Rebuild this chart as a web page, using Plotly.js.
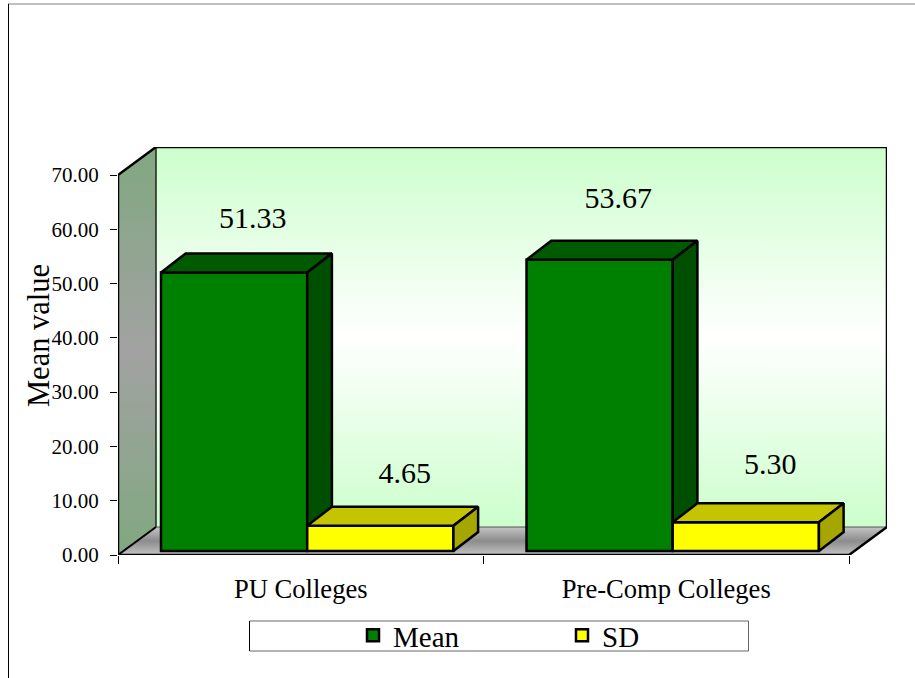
<!DOCTYPE html>
<html><head><meta charset="utf-8">
<script src="https://cdn.plot.ly/plotly-3.0.1.min.js"></script>
<style>html,body{margin:0;padding:0;background:#fff}#c{width:915px;height:678px}</style>
</head><body><div id="c"></div>
<script>
const categories = ["PU Colleges", "Pre-Comp Colleges"];
const meanValues = [51.33, 53.67];
const sdValues = [4.65, 5.30];
const yTicks = [0, 10, 20, 30, 40, 50, 60, 70];
const seriesNames = ["Mean", "SD"];
const meanLabelLift = [9.6, 10.85];
const sdLabelLift = [9.2, 10.35];

const W = 915, H = 678;
const L = 118, B = 555, T = 147, R = 887;
const DX = 38 / 365.5, DY = 28 / 5.4286;          // oblique depth of the box, in axis units
const YMAX = 70, XMAX = 2;
const FRONTX = 0.17, FRONTY = 0.14, BACK = 0.82;   // bar depth inside the box
const BW = 0.4;
const px = v => (v - L) / (R - L), py = v => (B - v) / (B - T);

function poly(xs, ys, o, axes) {
  return Object.assign({
    type: 'scatter', mode: 'lines', x: xs, y: ys, fill: 'toself', showlegend: false, hoverinfo: 'skip',
    cliponaxis: false, line: { color: '#000', width: 2.5 }
  }, axes ? { xaxis: axes[0], yaxis: axes[1] } : {}, o);
}

function barTrace(name, vals, pos, color, axes) {
  return {
    type: 'bar', name, x: pos.map(p => p + FRONTX * DX), y: vals, base: vals.map(() => FRONTY * DY), width: BW,
    marker: { color, line: { color: '#000', width: 2.5 } }, xaxis: axes[0], yaxis: axes[1], hoverinfo: 'skip'
  };
}

function faces(vals, pos, topColor, sideColor, axes) {
  const out = [];
  vals.forEach((v, i) => {
    const x0 = pos[i] - BW / 2 + FRONTX * DX, x1 = pos[i] + BW / 2 + FRONTX * DX;
    const y1 = v + FRONTY * DY, y0 = FRONTY * DY;
    const ox = (BACK - FRONTX) * DX, oy = (BACK - FRONTY) * DY;
    out.push(poly([x0, x1, x1 + ox, x0 + ox, x0], [y1, y1, y1 + oy, y1 + oy, y1], { fillcolor: topColor }, axes));
    out.push(poly([x1, x1 + ox, x1 + ox, x1, x1], [y1, y1 + oy, y0 + oy, y0, y1], { fillcolor: sideColor }, axes));
  });
  return out;
}

const meanPos = categories.map((c, i) => i + 0.5 - BW / 2);
const sdPos = categories.map((c, i) => i + 0.5 + BW / 2);
const A2 = ['x2', 'y2'], A3 = ['x3', 'y3'];

const walls = [
  poly([DX, XMAX + DX, XMAX + DX, DX, DX], [DY, DY, YMAX + DY, YMAX + DY, DY], {
    line: { color: '#000', width: 0 }, fillcolor: '#CCFFCC',
    fillgradient: { type: 'vertical', start: DY, stop: YMAX + DY,
      colorscale: [[0, '#CCFFCC'], [0.5, '#FFFFFF'], [1, '#CCFFCC']] }
  }),
  poly([0, DX, DX, 0, 0], [0, DY, YMAX + DY, YMAX, 0], {
    line: { color: '#000', width: 0 }, fillcolor: '#A0A0A0',
    fillgradient: { type: 'vertical', start: 0, stop: YMAX + DY,
      colorscale: [[0, '#80A880'], [0.5, '#A2A2A2'], [1, '#80A880']] }
  }),
  poly([0, XMAX, XMAX + DX, DX, 0], [0, 0, DY, DY, 0], {
    line: { color: '#000', width: 0 }, fillcolor: '#C0C0C0',
    fillgradient: { type: 'vertical', start: 0, stop: DY,
      colorscale: [[0, '#C4C4C4'], [0.5, '#8C8C8C'], [1, '#C4C4C4']] }
  }),
  { type: 'scatter', mode: 'lines', showlegend: false, hoverinfo: 'skip', cliponaxis: false,
    x: [DX, DX, XMAX + DX], y: [DY, YMAX + DY, YMAX + DY], line: { color: '#222', width: 1.5 } },
  { type: 'scatter', mode: 'lines', showlegend: false, hoverinfo: 'skip', cliponaxis: false,
    x: [DX, XMAX + DX], y: [DY, DY], line: { color: '#555', width: 1 } },
  { type: 'scatter', mode: 'lines', showlegend: false, hoverinfo: 'skip', cliponaxis: false,
    x: [XMAX + DX, DX, 0, 0, XMAX, XMAX + DX, XMAX + DX], y: [YMAX + DY, YMAX + DY, YMAX, 0, 0, DY, YMAX + DY], line: { color: '#000', width: 2.5 } },
  { type: 'scatter', mode: 'lines', showlegend: false, hoverinfo: 'skip', cliponaxis: false,
    x: [0, DX], y: [0, DY], line: { color: '#000', width: 2 } }
];

function labels(vals, pos, lift, dx, axes) {
  return {
    type: 'scatter', mode: 'text', showlegend: false, hoverinfo: 'skip', cliponaxis: false,
    x: pos.map(p => p + dx), y: vals.map((v, i) => v + FRONTY * DY + lift[i]),
    text: vals.map(v => v.toFixed(2)), textposition: 'middle center',
    textfont: { family: 'Liberation Serif', size: 30, color: '#000' }, xaxis: axes[0], yaxis: axes[1]
  };
}

const traces = [
  ...walls,
  ...faces(meanValues, meanPos, '#005A00', '#004F00', A2),
  barTrace(seriesNames[0], meanValues, meanPos, '#008000', A2),
  barTrace(seriesNames[1], sdValues, sdPos, '#FFFF00', A3),
  ...faces(sdValues, sdPos, '#C4C400', '#A6A600', A3),
  labels(meanValues, meanPos, meanLabelLift, 0.0684, A3),
  labels(sdValues, sdPos, sdLabelLift, 0.0844, A3)
];

const ov = (side) => ({ overlaying: side, visible: false, fixedrange: true });
const xr = [0, XMAX + DX], yr = [0, YMAX + DY];
const layout = {
  width: W, height: H, margin: { l: L, r: W - R, t: T, b: H - B, pad: 0 },
  paper_bgcolor: '#fff', plot_bgcolor: 'rgba(0,0,0,0)', barmode: 'overlay', showlegend: true,
  font: { family: 'Liberation Serif', color: '#000' },
  xaxis: {
    range: xr, showgrid: false, zeroline: false, showline: false, fixedrange: true,
    tickmode: 'array', tickvals: categories.map((c, i) => i + 0.5), ticktext: categories,
    ticks: '', tickfont: { size: 26.6 }, ticklabelstandoff: 15,
    minor: { tickmode: 'array', tickvals: [0, 1, 2], ticks: 'outside', ticklen: 8, tickwidth: 1, tickcolor: '#000', showgrid: false }
  },
  yaxis: {
    range: yr, showgrid: false, zeroline: false, showline: false, fixedrange: true,
    tickmode: 'array', tickvals: yTicks, ticktext: yTicks.map(v => v.toFixed(2)),
    ticks: 'outside', ticklen: 7, tickwidth: 1, tickcolor: '#000', tickfont: { size: 21 },
    ticklabelstandoff: 7
  },
  xaxis2: Object.assign({ range: xr, anchor: 'y2' }, ov('x')),
  yaxis2: Object.assign({ range: yr, anchor: 'x2' }, ov('y')),
  xaxis3: Object.assign({ range: xr, anchor: 'y3' }, ov('x')),
  yaxis3: Object.assign({ range: yr, anchor: 'x3' }, ov('y')),
  legend: {
    orientation: 'h', x: px(353), y: py(635.5), xanchor: 'left', yanchor: 'middle',
    bgcolor: 'rgba(0,0,0,0)', borderwidth: 0, entrywidth: 164, entrywidthmode: 'pixels',
    font: { size: 29, family: 'Liberation Serif', color: '#000' }, traceorder: 'normal', itemclick: false, itemdoubleclick: false
  },
  annotations: [
    { xref: 'paper', yref: 'paper', x: px(39), y: py(336), text: 'Mean value', textangle: -90, showarrow: false,
      xanchor: 'center', yanchor: 'middle', font: { size: 30.5, family: 'Liberation Serif', color: '#000' } }
  ],
  shapes: [
    { type: 'line', xref: 'paper', yref: 'paper', x0: px(8), x1: px(915), y0: py(4), y1: py(4), line: { color: '#808080', width: 1 } },
    { type: 'line', xref: 'paper', yref: 'paper', x0: px(8.5), x1: px(8.5), y0: py(4), y1: py(678), line: { color: '#000', width: 1 } },
    { type: 'rect', xref: 'paper', yref: 'paper', x0: px(249.5), x1: px(748.5), y0: py(621), y1: py(651), fillcolor: '#fff', line: { color: '#666', width: 1 } },
    { type: 'line', xref: 'paper', yref: 'paper', x0: px(249.5), x1: px(249.5), y0: py(621), y1: py(651), line: { color: '#000', width: 1 } }
  ]
};
Plotly.newPlot('c', traces, layout, { staticPlot: true, displayModeBar: false, responsive: false });
</script></body></html>
